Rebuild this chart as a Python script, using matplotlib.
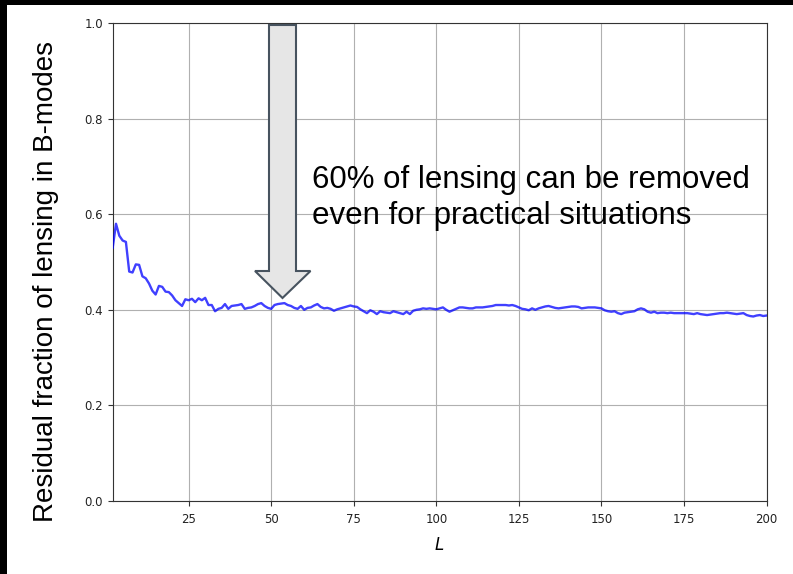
import matplotlib.pyplot as plt
from matplotlib.patches import Polygon, Rectangle

# multipole range and residual lensing fraction
L_min, L_max = 2, 200
residual = [
    0.530, 0.580, 0.555, 0.545, 0.542, 0.480, 0.478, 0.495, 0.494, 0.470,
    0.466, 0.455, 0.440, 0.432, 0.450, 0.448, 0.438, 0.437, 0.430, 0.420,
    0.414, 0.408, 0.422, 0.420, 0.423, 0.416, 0.424, 0.420, 0.425, 0.410,
    0.410, 0.397, 0.402, 0.404, 0.412, 0.402, 0.408, 0.409, 0.410, 0.412,
    0.402, 0.404, 0.405, 0.408, 0.412, 0.414, 0.408, 0.404, 0.402, 0.410,
    0.412, 0.413, 0.414, 0.410, 0.408, 0.404, 0.402, 0.408, 0.400, 0.404,
    0.405, 0.409, 0.412, 0.406, 0.403, 0.404, 0.402, 0.398, 0.401, 0.403,
    0.405, 0.407, 0.409, 0.407, 0.406, 0.401, 0.397, 0.393, 0.399, 0.396,
    0.391, 0.397, 0.395, 0.394, 0.393, 0.397, 0.395, 0.393, 0.391, 0.396,
    0.391, 0.398, 0.400, 0.401, 0.403, 0.402, 0.403, 0.402, 0.401, 0.403,
    0.405, 0.400, 0.396, 0.399, 0.402, 0.405, 0.405, 0.404, 0.403, 0.403,
    0.405, 0.405, 0.405, 0.406, 0.407, 0.408, 0.410, 0.410, 0.410, 0.410,
    0.409, 0.410, 0.408, 0.405, 0.402, 0.401, 0.399, 0.403, 0.400, 0.403,
    0.405, 0.407, 0.408, 0.406, 0.404, 0.403, 0.404, 0.405, 0.406, 0.407,
    0.407, 0.406, 0.403, 0.404, 0.405, 0.405, 0.405, 0.404, 0.403, 0.399,
    0.397, 0.396, 0.397, 0.393, 0.391, 0.394, 0.395, 0.396, 0.397, 0.401,
    0.403, 0.401, 0.396, 0.394, 0.396, 0.393, 0.394, 0.394, 0.393, 0.394,
    0.393, 0.393, 0.393, 0.393, 0.393, 0.392, 0.391, 0.393, 0.391, 0.390,
    0.389, 0.390, 0.391, 0.392, 0.393, 0.393, 0.394, 0.393, 0.392, 0.391,
    0.392, 0.393, 0.389, 0.387, 0.386, 0.388, 0.389, 0.387, 0.388,
]
ells = list(range(L_min, L_min + len(residual)))

W, H = 793, 574
fig = plt.figure(figsize=(W / 100, H / 100), dpi=100)
ax = fig.add_axes([112.7 / W, 1 - 501 / H, (766.5 - 112.7) / W, (501 - 23) / H])

ax.plot(ells, residual, color='blue', lw=1.7, alpha=0.75, zorder=3)
ax.set_xlim(L_min, L_max)
ax.set_ylim(0, 1)
ax.set_xticks([25, 50, 75, 100, 125, 150, 175, 200])
ax.set_yticks([0.0, 0.2, 0.4, 0.6, 0.8, 1.0])
ax.tick_params(labelsize=8.5, colors='#333333', labelcolor='#222222')
ax.tick_params(axis='x', pad=5)
ax.grid(True, color='#b0b0b0', lw=0.8)
for s in ax.spines.values():
    s.set_color('#333333')
ax.set_xlabel('$L$', fontsize=12, labelpad=7)

fig.text(46 / W, 1 - 281 / H, 'Residual fraction of lensing in B-modes',
         rotation=90, ha='center', va='center', fontsize=20,
         family='Liberation Sans')

fig.text(312 / W, 1 - 198 / H,
         '60% of lensing can be removed\neven for practical situations',
         ha='left', va='center', fontsize=22.5, family='Liberation Sans',
         linespacing=1.3)

# block arrow pointing down at the curve (pixel outline -> figure fraction)
arrow_px = [(269, 25), (296, 25), (296, 271), (310.5, 271), (282.5, 298),
            (255, 271), (269, 271)]
arrow = Polygon([(x / W, 1 - y / H) for x, y in arrow_px], closed=True,
                transform=fig.transFigure, facecolor='#e6e6e6',
                edgecolor='#47535f', lw=1.5, zorder=5)
fig.patches.append(arrow)

# dark frame strips along the top and left edges
fig.patches.append(Rectangle((0, 1 - 5 / H), 1, 5 / H, transform=fig.transFigure,
                             facecolor='black', edgecolor='none'))
fig.patches.append(Rectangle((0, 0), 7 / W, 1, transform=fig.transFigure,
                             facecolor='black', edgecolor='none'))

fig.savefig('out.png', dpi=100)
